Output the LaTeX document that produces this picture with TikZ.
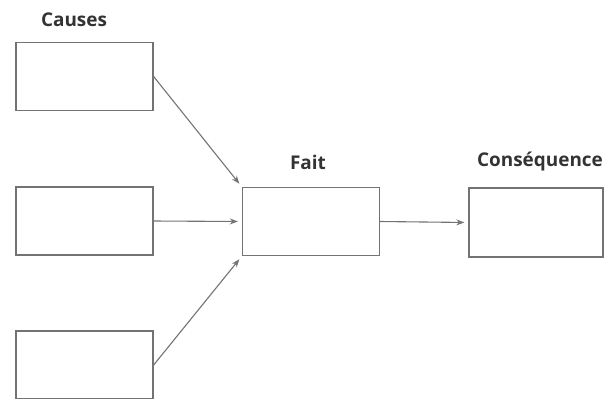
\documentclass[tikz,border=0pt]{standalone}
\usepackage{fontspec}
\setmainfont{Open Sans}
\usepackage{xcolor}
\usetikzlibrary{arrows.meta}

\begin{document}
\begin{tikzpicture}[x=1bp, y=-1bp,
  box/.style={draw=black!55, line width=1.3bp, minimum width=137bp, minimum height=68bp, inner sep=0pt},
  lbl/.style={font=\fontsize{19}{23}\selectfont\bfseries, text=black!80},
  arr/.style={draw=black!55, line width=1.1bp, -{Stealth[length=8bp, width=6bp, open]}, shorten >=4bp}]
\useasboundingbox (0,0) rectangle (609,398);

\node[box] (c1) at (84.5,76.5) {};
\node[box] (c2) at (84.5,221) {};
\node[box] (c3) at (84.5,365) {};
\node[box] (f) at (311,221.5) {};
\node[box, minimum width=134bp, minimum height=69bp] (q) at (536,222.5) {};

\node[lbl] (tc) at (74,20) {Causes};
\node[lbl] (tf) at (308,162) {Fait};
\node[lbl] (tq) at (540,162) {Conséquence};

\path[arr] (c1.east) -- (f.north west);
\path[arr] (c2.east) -- (f.west);
\path[arr] (c3.east) -- (f.south west);
\path[arr] (f.east) -- (q.west);
\end{tikzpicture}
\end{document}
